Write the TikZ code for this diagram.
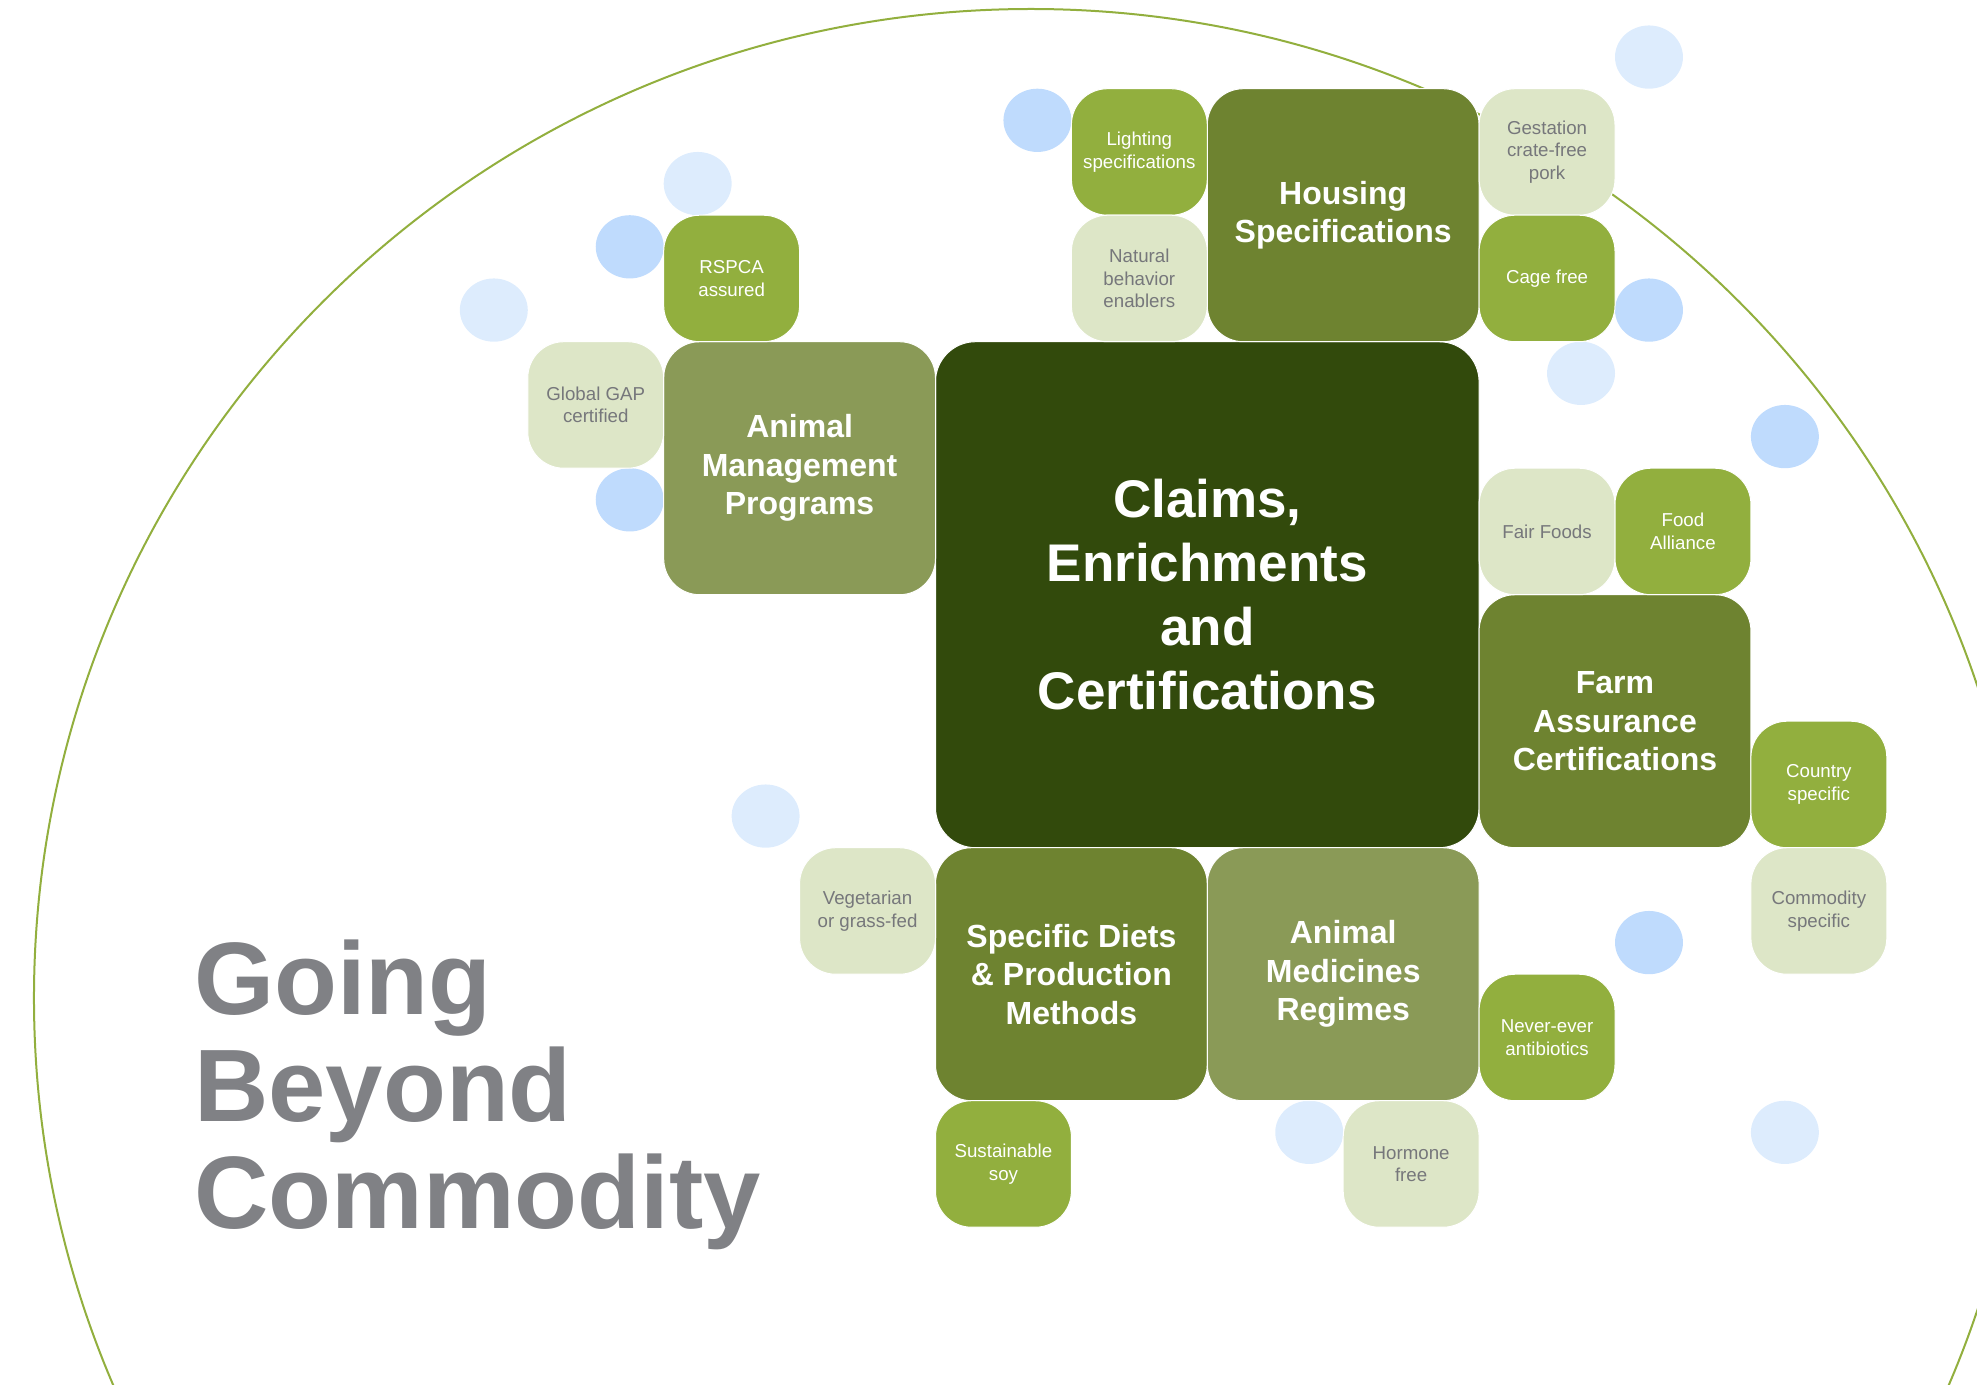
\documentclass[tikz,border=0pt]{standalone}
\usepackage{fontspec}
\setmainfont{Liberation Sans}
\usetikzlibrary{shapes.geometric}
\definecolor{cdark}{HTML}{324A0C}
\definecolor{cmid}{HTML}{6E8330}
\definecolor{colive}{HTML}{8A9A57}
\definecolor{cbright}{HTML}{92AF3E}
\definecolor{cpale}{HTML}{DDE6C7}
\definecolor{cblueL}{HTML}{DDECFD}
\definecolor{cblueM}{HTML}{BFDBFD}
\definecolor{cgreytxt}{HTML}{76777B}
\definecolor{ctitle}{HTML}{808185}
\definecolor{carc}{HTML}{92AF3E}
\begin{document}
\begin{tikzpicture}[x=135.9pt,y=-126.5pt,
 box/.style={rectangle, rounded corners=36pt, draw=white, line width=1pt, inner sep=0pt, align=center},
 smallbox/.style={box, minimum width=135.9pt, minimum height=126.5pt, font=\fontsize{18.7}{22.5}\selectfont},
 bright/.style={smallbox, fill=cbright, text=white},
 pale/.style={smallbox, fill=cpale, text=cgreytxt},
 bigbox/.style={box, minimum width=271.8pt, minimum height=253pt, text=white, font=\bfseries\fontsize{32}{38.5}\selectfont},
 bubble/.style={ellipse, minimum width=67.95pt, minimum height=63.25pt, inner sep=0pt},
 bl/.style={bubble, fill=cblueL},
 bm/.style={bubble, fill=cblueM},
 arcline/.style={draw=carc, line width=2pt}]
\useasboundingbox (-6.8837,-2.7012) rectangle (7.6637,8.2395);
\begin{scope}
\clip (-6.8837,-2.7012) rectangle (7.6637,8.2395);
\draw[arcline] (0.7027,5.1881) ellipse [x radius=997pt, y radius=989pt];
\end{scope}
% bubbles
\node[bl] (b1) at (5.25,-2.25) {};
\node[bm] (b2) at (0.75,-1.75) {};
\node[bl] (b3) at (-1.75,-1.25) {};
\node[bm] (b4) at (-2.25,-0.75) {};
\node[bl] (b5) at (-3.25,-0.25) {};
\node[bm] (b6) at (5.25,-0.25) {};
\node[bl] (b7) at (4.75,0.25) {};
\node[bm] (b8) at (6.25,0.75) {};
\node[bm] (b9) at (-2.25,1.25) {};
\node[bl] (b10) at (-1.25,3.75) {};
\node[bm] (b11) at (5.25,4.75) {};
\node[bl] (b12) at (2.75,6.25) {};
\node[bl] (b13) at (6.25,6.25) {};
% main
\node[box, minimum width=543.6pt, minimum height=506pt, fill=cdark, text=white, rounded corners=40pt,
  font=\bfseries\fontsize{53}{64}\selectfont] (center) at (2,2) {Claims,\\Enrichments\\and\\Certifications};
\node[bigbox, fill=cmid] (housing) at (3,-1) {Housing\\Specifications};
\node[bigbox, fill=colive] (mgmt) at (-1,1) {Animal\\Management\\Programs};
\node[bigbox, fill=cmid] (farm) at (5,3) {Farm\\Assurance\\Certifications};
\node[bigbox, fill=cmid] (diets) at (1,5) {Specific Diets\\\& Production\\Methods};
\node[bigbox, fill=colive] (meds) at (3,5) {Animal\\Medicines\\Regimes};
% small
\node[bright] (light) at (1.5,-1.5) {Lighting\\specifications};
\node[pale] (natural) at (1.5,-0.5) {Natural\\behavior\\enablers};
\node[pale] (gest) at (4.5,-1.5) {Gestation\\crate-free\\pork};
\node[bright] (cage) at (4.5,-0.5) {Cage free};
\node[bright] (rspca) at (-1.5,-0.5) {RSPCA\\assured};
\node[pale] (gap) at (-2.5,0.5) {Global GAP\\certified};
\node[pale] (fair) at (4.5,1.5) {Fair Foods};
\node[bright] (alliance) at (5.5,1.5) {Food\\Alliance};
\node[bright] (country) at (6.5,3.5) {Country\\specific};
\node[pale] (commod) at (6.5,4.5) {Commodity\\specific};
\node[pale] (veg) at (-0.5,4.5) {Vegetarian\\or grass-fed};
\node[bright] (never) at (4.5,5.5) {Never-ever\\antibiotics};
\node[bright] (soy) at (0.5,6.5) {Sustainable\\soy};
\node[pale] (hormone) at (3.5,6.5) {Hormone\\free};
% title
\node[anchor=base west, inner sep=0pt, align=left, text=ctitle,
  font=\bfseries\fontsize{103}{107}\selectfont] (title) at (-5.456,7.0063) {Going\\Beyond\\Commodity};
\end{tikzpicture}
\end{document}
